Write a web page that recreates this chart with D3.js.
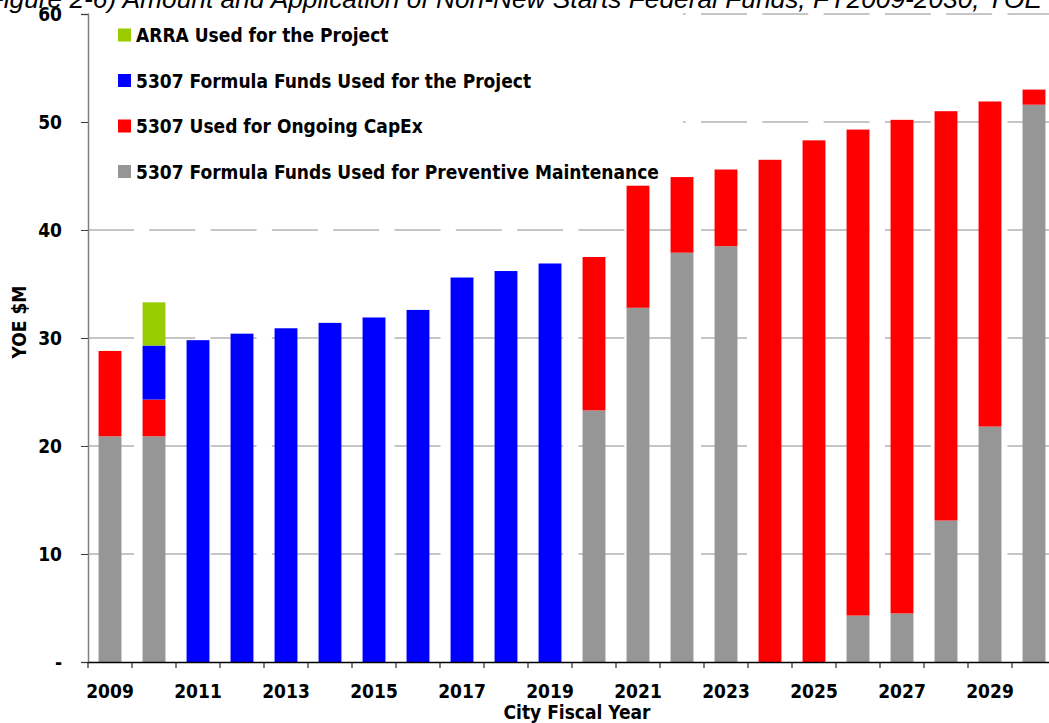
<!DOCTYPE html>
<html>
<head>
<meta charset="utf-8">
<script src="https://cdn.jsdelivr.net/npm/d3@7"></script>
<style>
	body { margin: 0; background: #fff; }
	svg text { font-family: "DejaVu Sans Condensed", "DejaVu Sans", sans-serif; font-stretch: condensed; font-weight: bold; fill: #000; }
	.title { font-family: "Liberation Sans", Arial, sans-serif; font-style: italic; font-weight: normal; font-stretch: normal; }
</style>
</head>
<body>
<div id="chart"></div>
<script>
// chart data (YOE $M)
const years = d3.range(2009, 2031);
const preventive = [20.9, 20.9, 0, 0, 0, 0, 0, 0, 0, 0, 0, 23.3, 32.8, 37.9, 38.5, 0, 0, 4.3, 4.5, 13.1, 21.8, 51.6];
const capex = [7.9, 3.4, 0, 0, 0, 0, 0, 0, 0, 0, 0, 14.2, 11.3, 7.0, 7.1, 46.5, 48.3, 45.0, 45.7, 37.9, 30.1, 1.4];
const formula = [0, 5.0, 29.8, 30.4, 30.9, 31.4, 31.9, 32.6, 35.6, 36.2, 36.9, 0, 0, 0, 0, 0, 0, 0, 0, 0, 0, 0];
const arra = [0, 4.0, 0, 0, 0, 0, 0, 0, 0, 0, 0, 0, 0, 0, 0, 0, 0, 0, 0, 0, 0, 0];
const yTicks = [0, 10, 20, 30, 40, 50, 60];

// series, bottom to top in the stack
const series = [
	{key: "pm", label: "5307 Formula Funds Used for Preventive Maintenance", color: "#969696", values: preventive},
	{key: "capex", label: "5307 Used for Ongoing CapEx", color: "#ff0000", values: capex},
	{key: "formula", label: "5307 Formula Funds Used for the Project", color: "#0000ff", values: formula},
	{key: "arra", label: "ARRA Used for the Project", color: "#99cc00", values: arra}
];

const rows = years.map((yr, i) => {
	let row = {year: yr};
	series.forEach(s => row[s.key] = s.values[i]);
	return row;
});

const W = 1049, H = 723;
const margin = {top: 14, left: 88, bottom: 61};
const svg = d3.select("#chart").append("svg")
	.attr("width", W)
	.attr("height", H);

// scales
const x = d3.scaleBand()
	.domain(years)
	.range([margin.left, margin.left + 44 * years.length])
	.paddingInner(0.48)
	.paddingOuter(0.24);
const y = d3.scaleLinear()
	.domain([0, 60])
	.range([H - margin.bottom, margin.top]);

// dashed gridlines
svg.append("g")
	.selectAll("line")
	.data(yTicks.filter(d => d > 0))
	.join("line")
	.attr("x1", margin.left)
	.attr("x2", W)
	.attr("y1", d => y(d))
	.attr("y2", d => y(d))
	.attr("stroke", "#b4b4b4")
	.attr("stroke-width", 1.5)
	.attr("stroke-dasharray", "46,15.3");

// legend background hides the gridlines, but sits under the bars
svg.append("rect")
	.attr("x", margin.left + 1)
	.attr("y", margin.top - 2)
	.attr("width", 594)
	.attr("height", 176)
	.attr("fill", "#fff");

// stacked bars
const stack = d3.stack().keys(series.map(s => s.key));
const layers = stack(rows);
svg.append("g")
	.selectAll("g")
	.data(layers)
	.join("g")
	.attr("fill", (d, i) => series[i].color)
	.selectAll("rect")
	.data(d => d.filter(p => p[1] - p[0] > 0))
	.join("rect")
	.attr("x", d => x(d.data.year))
	.attr("width", x.bandwidth())
	.attr("y", d => y(d[1]))
	.attr("height", d => y(d[0]) - y(d[1]));

// legend entries
const legend = svg.append("g");
const legendOrder = series.slice().reverse();
legendOrder.forEach((s, i) => {
	let cy = 35 + i * 45.5;
	legend.append("rect")
		.attr("x", 118)
		.attr("y", cy - 6.5)
		.attr("width", 13)
		.attr("height", 13)
		.attr("fill", s.color);
	legend.append("text")
		.attr("x", 136)
		.attr("y", cy + 7)
		.style("font-size", "19px")
		.text(s.label);
});

// y axis
const yAxis = d3.axisLeft(y)
	.tickValues(yTicks)
	.tickFormat(d => d === 0 ? "-" : d)
	.tickSize(7)
	.tickPadding(19);
const gy = svg.append("g")
	.attr("transform", "translate(" + margin.left + ",0)")
	.call(yAxis);
gy.select(".domain").attr("stroke", "#808080").attr("stroke-width", 1.5);
gy.selectAll(".tick line").attr("stroke", "#404040");
gy.selectAll(".tick text").style("font-size", "19px");

// x axis: labels on odd years, ticks on category boundaries
const xAxis = d3.axisBottom(x)
	.tickSize(0)
	.tickPadding(23)
	.tickFormat(d => d % 2 === 1 ? d : "");
const gx = svg.append("g")
	.attr("transform", "translate(0," + y(0) + ")")
	.call(xAxis);
gx.select(".domain").attr("stroke", "#000").attr("stroke-width", 1.5);
gx.selectAll(".tick text").style("font-size", "19px");
gx.selectAll(".boundary")
	.data(years)
	.join("line")
	.attr("class", "boundary")
	.attr("x1", d => x(d) - x.step() * x.paddingOuter())
	.attr("x2", d => x(d) - x.step() * x.paddingOuter())
	.attr("y1", 0)
	.attr("y2", 6)
	.attr("stroke", "#000");

// axis titles
svg.append("text")
	.attr("transform", "translate(26,322) rotate(-90)")
	.attr("text-anchor", "middle")
	.style("font-size", "19px")
	.text("YOE $M");
svg.append("text")
	.attr("x", 577)
	.attr("y", 719)
	.attr("text-anchor", "middle")
	.style("font-size", "19px")
	.text("City Fiscal Year");

// figure title, cut off at the top and left edges
svg.append("text")
	.attr("class", "title")
	.attr("x", 1042)
	.attr("y", 8)
	.attr("text-anchor", "end")
	.style("font-size", "26.3px")
	.text("Figure 2-6) Amount and Application of Non-New Starts Federal Funds, FY2009-2030, YOE");
</script>
</body>
</html>
